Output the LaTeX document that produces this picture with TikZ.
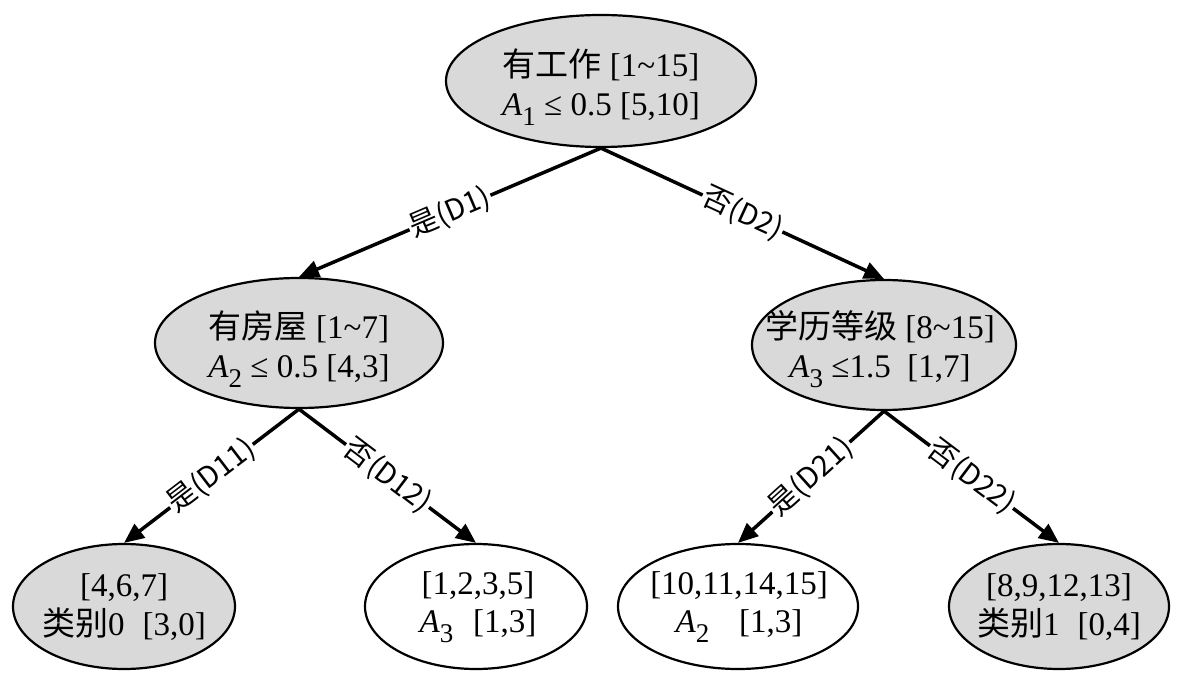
\documentclass[tikz,border=0pt]{standalone}
\usepackage{fontspec}
\setmainfont{Liberation Serif}
\newfontfamily\cjk{Noto Sans CJK SC}
\usetikzlibrary{shapes.geometric,arrows.meta}
\definecolor{nodegray}{RGB}{217,217,217}
\newcommand{\Asub}[1]{\textit{A}\raisebox{-0.3em}{\fontsize{27}{27}\selectfont #1}}
\newcommand{\tld}{\textasciitilde}
\tikzset{
  ell/.style={ellipse, draw=black, line width=2.2pt, inner sep=0pt},
  grayell/.style={ell, fill=nodegray},
  whiteell/.style={ell, fill=white},
  txt/.style={align=center, inner sep=0pt, font={\fontsize{33}{38.5}\selectfont}},
  edge/.style={line width=3.5pt, -{Triangle[length=20pt,width=17pt]}},
  elab/.style={sloped, fill=white, inner sep=1.5pt, font={\cjk\fontsize{29}{29}\selectfont}}
}
\begin{document}
\begin{tikzpicture}[x=1pt,y=-1pt]
\useasboundingbox (0,0) rectangle (1188,692);
% nodes
\node[grayell, minimum width=310pt, minimum height=132pt] (r) at (601,81) {};
\node[txt] (rt) at (601,87) {{\cjk 有工作} [1\tld15]\\\Asub{1} ≤ 0.5 [5,10]};

\node[grayell, minimum width=288pt, minimum height=130pt] (ml) at (299,343) {};
\node[txt] (mlt) at (299,349) {{\cjk 有房屋} [1\tld7]\\\Asub{2} ≤ 0.5 [4,3]};

\node[grayell, minimum width=264pt, minimum height=130pt] (mr) at (884,345) {};
\node[txt] (mrt) at (880,349) {{\cjk 学历等级} [8\tld15]\\\Asub{3} ≤1.5\hspace{0.5em}[1,7]};

\node[grayell, minimum width=222pt, minimum height=125pt] (l1) at (124,606.5) {};
\node[txt] (l1t) at (124,607) {[4,6,7]\\{\cjk 类别}0\hspace{0.55em}[3,0]};

\node[whiteell, minimum width=222pt, minimum height=125pt] (l2) at (476,606.5) {};
\node[txt] (l2t) at (478,607) {[1,2,3,5]\\\Asub{3}\hspace{0.6em}[1,3]};

\node[whiteell, minimum width=240pt, minimum height=125pt] (l3) at (738,606.5) {};
\node[txt] (l3t) at (739,607) {[10,11,14,15]\\\Asub{2}\hspace{0.9em}[1,3]};

\node[grayell, minimum width=220pt, minimum height=125pt] (l4) at (1059,606.5) {};
\node[txt] (l4t) at (1059,607) {[8,9,12,13]\\{\cjk 类别}1\hspace{0.55em}[0,4]};

% edges
\draw[edge] (r.south) -- node[elab] {是(D1)} (ml.north);
\draw[edge] (r.south) -- node[elab] {否(D2)} (mr.north);
\draw[edge] (ml.south) -- node[elab] {是(D11)} (l1.north);
\draw[edge] (ml.south) -- node[elab] {否(D12)} (l2.north);
\draw[edge] (mr.south) -- node[elab] {是(D21)} (l3.north);
\draw[edge] (mr.south) -- node[elab] {否(D22)} (l4.north);
\end{tikzpicture}
\end{document}
